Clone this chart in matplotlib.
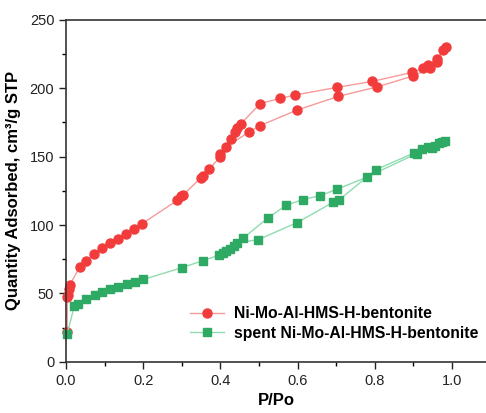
import matplotlib.pyplot as plt
from matplotlib.ticker import MultipleLocator

plt.rcParams['font.family'] = ['Liberation Sans', 'DejaVu Sans']

# Ni-Mo-Al-HMS-H-bentonite: adsorption then desorption
fresh_p = [0.003, 0.003, 0.005, 0.007, 0.01, 0.036, 0.052, 0.073, 0.092, 0.114,
           0.135, 0.155, 0.176, 0.197, 0.288, 0.298, 0.303, 0.35, 0.355, 0.37,
           0.40, 0.414, 0.474, 0.503, 0.598, 0.705, 0.806, 0.90, 0.943, 0.96,
           0.977, 0.984,
           0.96, 0.938, 0.925, 0.896, 0.793, 0.702, 0.593, 0.554, 0.503, 0.453,
           0.443, 0.438, 0.427, 0.40]
fresh_q = [22, 47, 49, 53, 56.5, 69.5, 74, 79, 83.4, 87,
           90, 93.7, 97, 101, 118, 121, 122, 134.6, 136, 140.6,
           150, 157, 168, 172.7, 184, 194, 201, 209, 214.5, 219,
           228, 230,
           221, 216.7, 214.5, 211.5, 205, 200.6, 195, 192.5, 188.8, 174,
           171, 168, 163, 152]

# spent Ni-Mo-Al-HMS-H-bentonite
spent_p = [0.003, 0.021, 0.031, 0.051, 0.075, 0.092, 0.114, 0.135, 0.157, 0.179,
           0.2, 0.30, 0.354, 0.397, 0.406, 0.415, 0.425, 0.435, 0.442, 0.498,
           0.598, 0.692, 0.706, 0.803, 0.902, 0.921, 0.947, 0.965, 0.982,
           0.973, 0.956, 0.939, 0.908, 0.779, 0.701, 0.658, 0.614, 0.57, 0.524,
           0.458]
spent_q = [20.5, 40.5, 42.5, 46, 49, 51, 53.4, 55, 57, 58.6,
           60.2, 68.8, 73.9, 78, 79.6, 81.2, 82.7, 84.9, 87, 89.3,
           101.7, 116.6, 118, 140.5, 152.7, 155.2, 156.4, 159.6, 161.7,
           160.5, 158.1, 157.1, 152.2, 135, 126, 121.5, 118.6, 114.4, 105.4,
           90.2]

fig = plt.figure(figsize=(4.86, 4.13), dpi=100)
ax = fig.add_axes([0.136, 0.124, 0.864, 0.828])

ax.plot(fresh_p, fresh_q, '-', color='#f79a9a', lw=1, marker='o', ms=6.5,
        mfc='#f23c3c', mec='#f23c3c', label='Ni-Mo-Al-HMS-H-bentonite', clip_on=False)
ax.plot(spent_p, spent_q, '-', color='#8fdcb0', lw=1, marker='s', ms=5.5,
        mfc='#2eaa64', mec='#2eaa64', label='spent Ni-Mo-Al-HMS-H-bentonite', clip_on=False)

ax.set_xlim(0, 1.088)
ax.set_ylim(0, 250)
ax.xaxis.set_major_locator(MultipleLocator(0.2))
ax.xaxis.set_minor_locator(MultipleLocator(0.1))
ax.yaxis.set_major_locator(MultipleLocator(50))
ax.yaxis.set_minor_locator(MultipleLocator(25))
ax.xaxis.set_major_formatter(plt.FormatStrFormatter('%.1f'))
ax.tick_params(which='major', direction='out', length=5, width=1, labelsize=10.5, colors='#222222')
ax.tick_params(which='minor', direction='out', length=3, width=1)
ax.spines['right'].set_visible(False)
for s in ['left', 'bottom', 'top']:
    ax.spines[s].set_linewidth(1.2)
    ax.spines[s].set_color('#333333')

ax.set_xlabel('P/Po', fontsize=12, fontweight='bold', labelpad=4)
ax.set_ylabel('Quantity Adsorbed, cm\u00b3/g STP', fontsize=12, fontweight='bold', labelpad=6)

leg = ax.legend(loc='lower right', bbox_to_anchor=(1.015, 0.02), frameon=False,
                prop={'weight': 'bold', 'size': 11.3}, handlelength=2.2,
                handletextpad=0.6, labelspacing=0.3)

fig.savefig('out.png', dpi=100)
